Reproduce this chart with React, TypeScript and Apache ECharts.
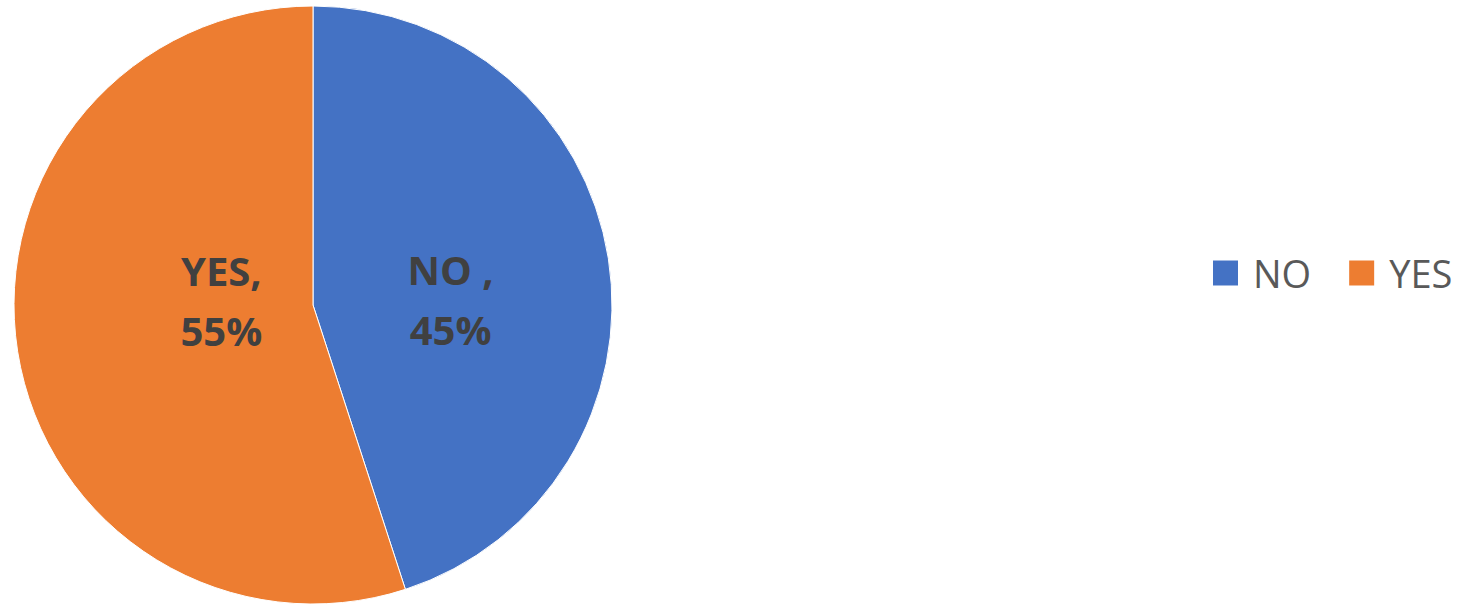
import React, { useEffect, useRef } from "react";
import * as echarts from "echarts";

const categories = ["NO", "YES"];
const labelNames = ["NO ", "YES"];
const values = [45, 55];
const colors = ["#4472C4", "#ED7D31"];

export default function App() {
  const ref = useRef<HTMLDivElement>(null);
  useEffect(() => {
    if (!ref.current) return;
    const chart = echarts.init(ref.current, undefined, { renderer: "svg" });
    const labelShift = [
      { dx: -13, dy: 18 },
      { dx: 59, dy: -28 },
    ];
    chart.setOption({
      animation: false,
      legend: {
        data: categories,
        left: 1206,
        top: 249,
        orient: "horizontal",
        itemWidth: 27,
        itemHeight: 27,
        itemGap: 36,
        icon: "rect",
        textStyle: {
          fontFamily: "Open Sans",
          fontSize: 38,
          color: "#595959",
          lineHeight: 27,
          padding: [0, 0, 0, 9],
        },
      },
      series: [
        {
          type: "pie",
          center: [313, 305],
          radius: 299,
          startAngle: 90,
          clockwise: true,
          data: categories.map((c, i) => ({
            name: c,
            value: values[i],
            itemStyle: { color: colors[i] },
          })),
          itemStyle: { borderColor: "#ffffff", borderWidth: 1 },
          label: {
            show: true,
            position: "inside",
            formatter: (p: any) => `${labelNames[p.dataIndex]},\n${p.percent.toFixed(0)}%`,
            fontFamily: "Open Sans",
            fontWeight: "bold",
            fontSize: 40,
            lineHeight: 60,
            color: "#404040",
            align: "center",
          },
          labelLayout: (p: any) => labelShift[p.dataIndex],
          labelLine: { show: false },
        },
      ],
    });
    return () => chart.dispose();
  }, []);
  return (
    <div
      ref={ref}
      style={{ position: "absolute", left: 0, top: 0, width: 1478, height: 604 }}
    />
  );
}
